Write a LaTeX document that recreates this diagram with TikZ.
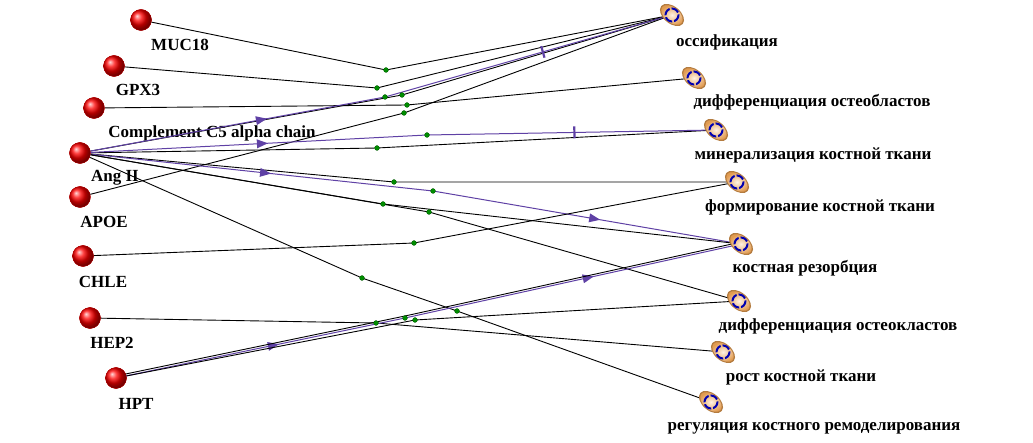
\documentclass[tikz,border=0pt]{standalone}
\usepackage{fontspec}
\setmainfont{Liberation Serif}
\usetikzlibrary{decorations.markings}
\definecolor{pur}{RGB}{95,65,165}
\definecolor{ora}{RGB}{225,155,80}
\begin{document}
\begin{tikzpicture}[x=1pt,y=-1pt,
  gene/.style={circle,minimum size=21pt,inner sep=0pt,ball color=red,draw=red!70!black,line width=0.3pt},
  proc/.style={minimum size=16pt,inner sep=0pt},
  lab/.style={font=\fontsize{17}{19}\selectfont\bfseries},
  e/.style={black,line width=0.9pt},
  p/.style={pur,line width=1pt},
  dot/.style={circle,fill=green!55!black,draw=green!30!black,line width=0.2pt,minimum size=5pt,inner sep=0pt},
  arr/.style={postaction={decorate},decoration={markings,mark=at position #1 with {\fill[pur] (4,0) -- (-7,-4.5) -- (-7,4.5) -- cycle;}}},
  bar/.style={postaction={decorate},decoration={markings,mark=at position #1 with {\draw[pur,line width=2.2pt] (0,-6) -- (0,6);}}}
]
\useasboundingbox (0,0) rectangle (1033,443);
\newcommand{\procicon}[2]{\node[proc] (#1) at (#2) {};}
\newcommand{\drawicon}[1]{%
  \fill[ora!80!black,rotate around={-40:(#1)}] (#1) ellipse (14 and 8.5);
  \shade[inner color=orange!10,outer color=ora,rotate around={-40:(#1)}] (#1) ellipse (12.5 and 7.5);
  \draw[blue!70!black,line width=2pt,dash pattern=on 8pt off 2pt] (#1) circle (6.5);
}
% genes
\node[gene] (muc) at (141,20) {}; \node[lab] at (180,45) {MUC18};
\node[gene] (gpx) at (114,66) {}; \node[lab] at (138,90) {GPX3};
\node[gene] (c5) at (94,108) {}; \node[lab] at (212,133) {Complement C5 alpha chain};
\node[gene] (ang) at (80,153) {}; \node[lab] at (115,178) {Ang II};
\node[gene] (apoe) at (80,197) {}; \node[lab] at (104,222) {APOE};
\node[gene] (chle) at (83,256) {}; \node[lab] at (103,282) {CHLE};
\node[gene] (hep) at (90,318) {}; \node[lab] at (112,343) {HEP2};
\node[gene] (hpt) at (116,378) {}; \node[lab] at (136,404) {HPT};
% processes
\procicon{oss}{672,15} \node[lab] at (727,42) {оссификация};
\procicon{dob}{694,78} \node[lab] at (812,102) {дифференциация остеобластов};
\procicon{min}{716,130} \node[lab] at (813,155) {минерализация костной ткани};
\procicon{frm}{737,182} \node[lab] at (820,207) {формирование костной ткани};
\procicon{res}{741,244} \node[lab] at (805,268) {костная резорбция};
\procicon{doc}{739,301} \node[lab] at (838,326) {дифференциация остеокластов};
\procicon{rost}{723,352} \node[lab] at (801,377) {рост костной ткани};
\procicon{reg}{711,402} \node[lab] at (814,428) {регуляция костного ремоделирования};
% junction dots
\coordinate (d1) at (386,70); \coordinate (d2) at (377,88);
\coordinate (d3) at (407,105); \coordinate (d4) at (404,113);
\coordinate (d5) at (402,95); \coordinate (d6) at (385,97);
\coordinate (d7) at (377,148); \coordinate (d8) at (427,135);
\coordinate (d9) at (394,182); \coordinate (d10) at (433,191);
\coordinate (d11) at (383,204); \coordinate (d12) at (429,212);
\coordinate (d13) at (362,278); \coordinate (d14) at (414,243);
\coordinate (d15) at (376,323); \coordinate (d16) at (405,318);
\coordinate (d17) at (415,320); \coordinate (d18) at (457,311);
\draw[e] (muc) -- (d1) -- (oss.center);
\draw[e] (gpx) -- (d2) -- (oss.center);
\draw[e] (c5) -- (d3) -- (dob.center);
\draw[e] (apoe) -- (d4) -- (oss.center);
\draw[e] (ang) -- (d5) -- (oss.center);
\draw[p,arr=0.6] (ang.center) -- (d6);
\draw[p,bar=0.55] (d6) -- (oss.center);
\draw[e] (ang) -- (d7) -- (min.center);
\draw[p,arr=0.53] (ang.center) -- (d8);
\draw[p,bar=0.51] (d8) -- (min.center);
\draw[e] (ang) -- (d9) -- (frm.center);
\draw[p,arr=0.53] (ang.center) -- (d10);
\draw[p,arr=0.53] (d10) -- (res.center);
\draw[e] (ang) -- (d11) -- (res.center);
\draw[e] (ang) -- (d12) -- (doc.center);
\draw[e] (ang) -- (d13) -- (d18) -- (reg.center);
\draw[e] (chle) -- (d14) -- (frm.center);
\draw[e] (hep) -- (d15) -- (rost.center);
\draw[p,arr=0.55] (hpt.center) -- (d16);
\draw[p,arr=0.55] (d16) -- (res.center);
\draw[e] ([yshift=2pt]hpt.center) -- ([yshift=2pt]d16) -- ([yshift=2pt]res.center);
\draw[e] (hpt) -- (d17) -- (doc.center);
\foreach \i in {1,...,18} \node[dot] at (d\i) {};
\foreach \n in {oss,dob,min,frm,res,doc,rost,reg} {\drawicon{\n.center}}
\foreach \g in {muc,gpx,c5,ang,apoe,chle,hep,hpt} \node[gene] at (\g) {};
\end{tikzpicture}
\end{document}
